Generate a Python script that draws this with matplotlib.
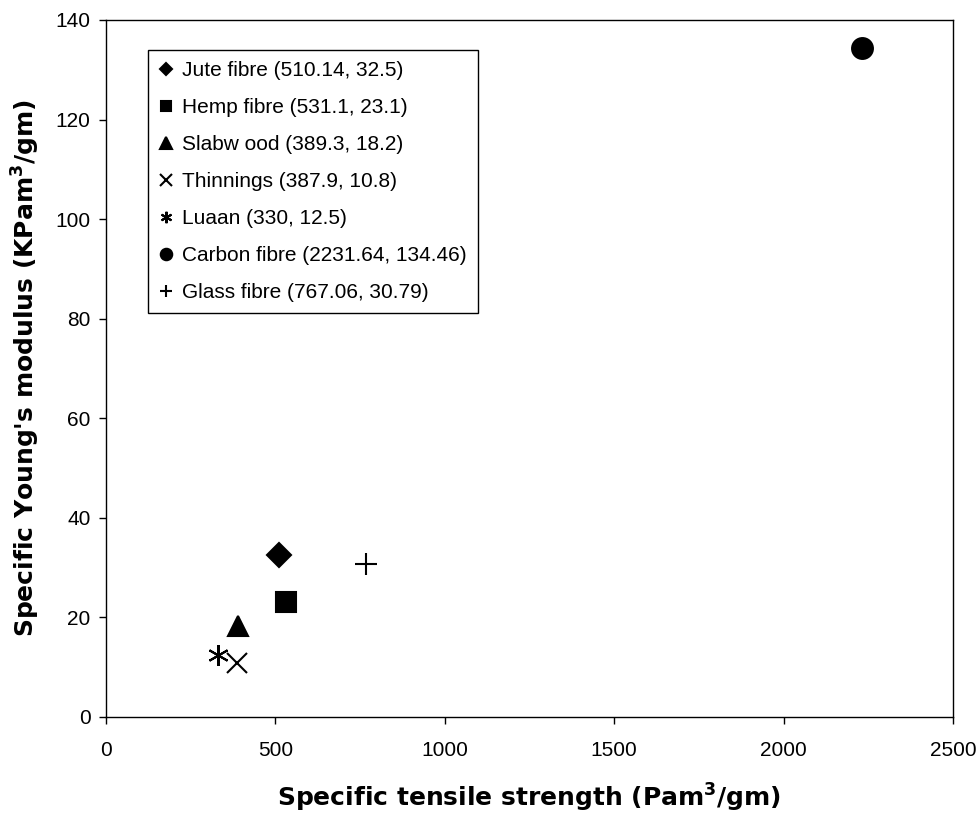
import matplotlib
matplotlib.use("Agg")
import matplotlib.pyplot as plt

plt.rcParams['font.family'] = ['Liberation Sans', 'DejaVu Sans']
plt.rcParams['mathtext.default'] = 'regular'

names = ["Jute fibre", "Hemp fibre", "Slabw ood", "Thinnings", "Luaan",
         "Carbon fibre", "Glass fibre"]
strength = [510.14, 531.1, 389.3, 387.9, 330, 2231.64, 767.06]
modulus = [32.5, 23.1, 18.2, 10.8, 12.5, 134.46, 30.79]
strength_txt = ["510.14", "531.1", "389.3", "387.9", "330", "2231.64", "767.06"]
modulus_txt = ["32.5", "23.1", "18.2", "10.8", "12.5", "134.46", "30.79"]

markers = ['D', 's', '^', 'x', (6, 2, 0), 'o', '+']
sizes = [12, 14, 15, 15, 15, 15, 16]

fig = plt.figure(figsize=(9.76, 8.23), dpi=100)
ax = fig.add_axes([0.1086, 0.1288, 0.8678, 0.8469])

for n, x, y, xs, ys, m, s in zip(names, strength, modulus, strength_txt,
                                 modulus_txt, markers, sizes):
    ax.plot([x], [y], linestyle='none', marker=m, markersize=s,
            color='black', markeredgewidth=1.5,
            label=f"{n} ({xs}, {ys})")

ax.set_xlim(0, 2500)
ax.set_ylim(0, 140)
ax.set_xticks(range(0, 2501, 500))
ax.set_yticks(range(0, 141, 20))
ax.tick_params(axis='both', labelsize=15, direction='out', length=5,
               width=1, colors='black')
ax.tick_params(axis='x', pad=12)
ax.tick_params(axis='y', pad=6)
for sp in ax.spines.values():
    sp.set_linewidth(1.0)
    sp.set_color('black')

label_font = dict(family='DejaVu Sans', fontsize=18, fontweight='bold')
ax.set_xlabel("Specific tensile strength (Pam$^{\\mathbf{3}}$/gm)",
              labelpad=16, **label_font)
ax.set_ylabel("Specific Young's modulus (KPam$^{\\mathbf{3}}$/gm)",
              labelpad=10, **label_font)

leg = ax.legend(loc='upper left', bbox_to_anchor=(0.0496, 0.957),
                prop={'family': 'Liberation Sans', 'size': 15},
                markerscale=0.55, frameon=True, fancybox=False,
                edgecolor='black', framealpha=1, handlelength=0.6,
                handletextpad=0.5, labelspacing=0.86, borderpad=0.55,
                borderaxespad=0)
leg.get_frame().set_linewidth(1.0)

fig.savefig("out.png", dpi=100, facecolor='white')
